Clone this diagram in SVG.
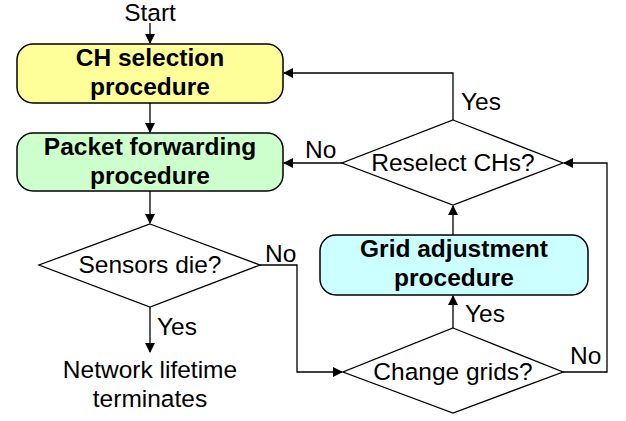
<svg xmlns="http://www.w3.org/2000/svg" width="626" height="421" viewBox="0 0 626 421">
<defs>
<marker id="ah" markerWidth="10" markerHeight="10" refX="9" refY="5" orient="auto" markerUnits="userSpaceOnUse"><path d="M0,0 L10,5 L0,10 z" fill="#000"/></marker>
<style>
text{font-family:"Liberation Sans",Arial,sans-serif;font-size:24.5px;fill:#000}
.b{font-weight:bold;text-anchor:middle}
.m{text-anchor:middle}
.box{stroke:#000;stroke-width:1.5}
.dia{fill:#fff;stroke:#000;stroke-width:1.3}
.c{fill:none;stroke:#000;stroke-width:1.3;marker-end:url(#ah)}
.l{fill:none;stroke:#000;stroke-width:1.3}
</style>
</defs>
<rect width="626" height="421" fill="#fff"/>
<g id="connectors">
<path class="c" d="M150,23 V43"/>
<path class="c" d="M150,103 V132"/>
<path class="c" d="M150,191 V223"/>
<path class="c" d="M150,307 V352"/>
<path class="c" d="M260,265 H297 V372 H342"/>
<path class="c" d="M453,328 V296"/>
<path class="c" d="M453,235 V206"/>
<path class="c" d="M453,120 V73 H284"/>
<path class="c" d="M342,163 H284"/>
<path class="c" d="M563,372 H607 V163 H564"/>
</g>
<g id="start"><text class="m" x="150" y="20.5">Start</text></g>
<g id="ch"><rect class="box" x="17" y="44" width="266" height="59" rx="16" fill="#ffff99"/><text class="b" x="150" y="66">CH selection</text><text class="b" x="150" y="95">procedure</text></g>
<g id="pf"><rect class="box" x="17" y="133" width="266" height="58" rx="16" fill="#ccffcc"/><text class="b" x="150" y="155">Packet forwarding</text><text class="b" x="150" y="184">procedure</text></g>
<g id="sd"><polygon class="dia" points="150,224 260,265 150,307 39,265"/><text class="m" x="150" y="273">Sensors die?</text></g>
<g id="end"><text class="m" x="150" y="378">Network lifetime</text><text class="m" x="150" y="407">terminates</text></g>
<g id="cg"><polygon class="dia" points="453,328 563,372 453,413 343,372"/><text class="m" x="453" y="380">Change grids?</text></g>
<g id="ga"><rect class="box" x="320" y="235" width="268" height="60" rx="16" fill="#ccffff"/><text class="b" x="454" y="257">Grid adjustment</text><text class="b" x="454" y="286">procedure</text></g>
<g id="rc"><polygon class="dia" points="453,120 563,163 453,205 342,163"/><text class="m" x="453" y="171">Reselect CHs?</text></g>
<g id="labels">
<text x="157" y="335">Yes</text>
<text x="265" y="262">No</text>
<text x="461" y="110">Yes</text>
<text x="305" y="158">No</text>
<text x="465" y="322">Yes</text>
<text x="570" y="364">No</text>
</g>
</svg>
